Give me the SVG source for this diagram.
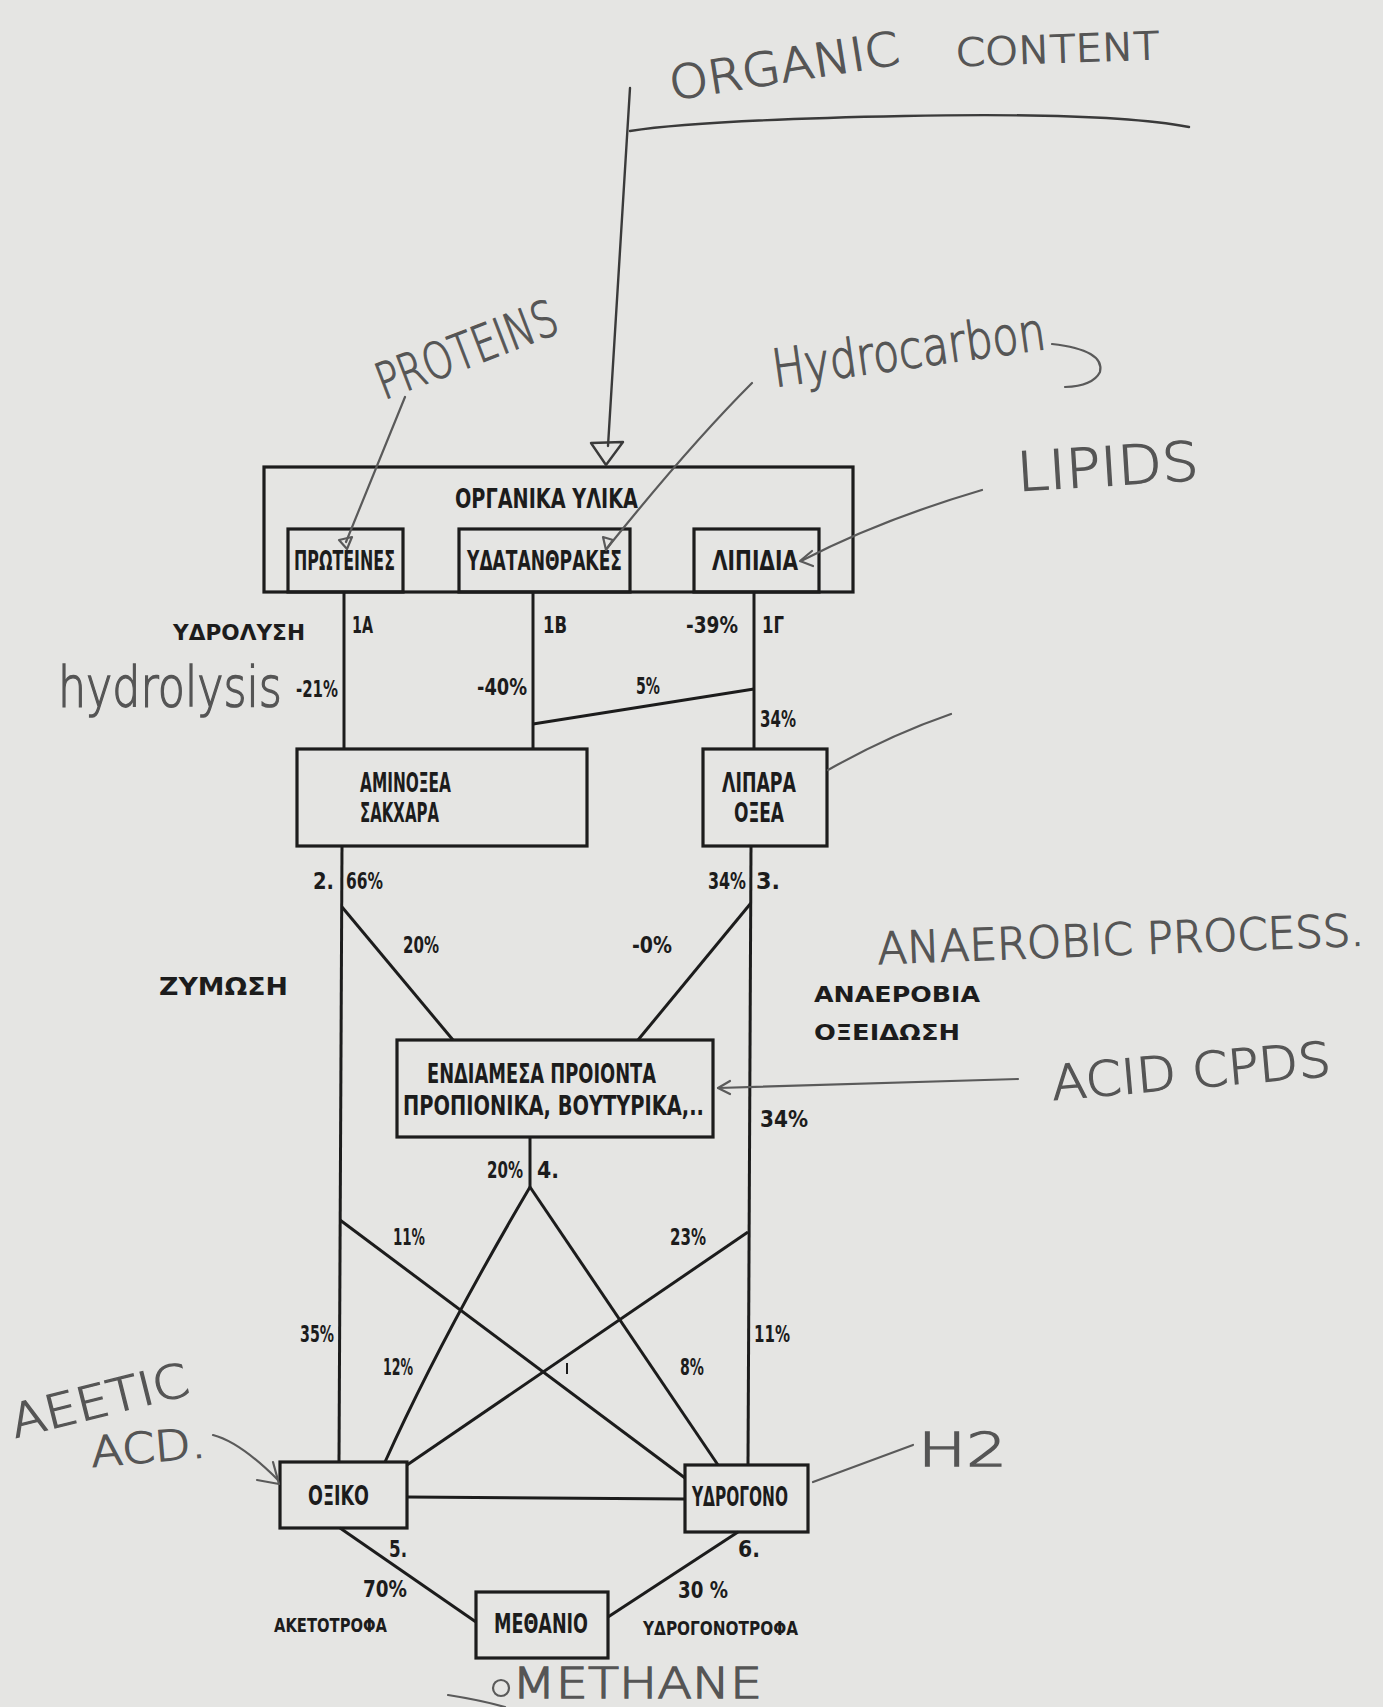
<svg xmlns="http://www.w3.org/2000/svg" width="1383" height="1707" viewBox="0 0 1383 1707">
<defs>
<style>
.bg{fill:#e5e5e3}
.box{fill:none;stroke:#1c1c1c;stroke-width:3.2;stroke-linejoin:miter}
.ln{fill:none;stroke:#1c1c1c;stroke-width:3}
.t{font-family:"DejaVu Sans Condensed","DejaVu Sans",sans-serif;font-weight:bold;font-size:23px;fill:#1c1c1c}
.tb{font-size:26px}
.ts{font-size:20px}
.tw{font-family:"DejaVu Sans","Liberation Sans",sans-serif;font-weight:bold;font-size:22px;fill:#1c1c1c}
.hw{font-family:"DejaVu Sans","Liberation Sans",sans-serif;font-weight:200;fill:#555;stroke:#555;stroke-width:1.3}
.pen{fill:none;stroke:#5a5a5a;stroke-width:2.2;stroke-linecap:round;stroke-linejoin:round}
.pend{fill:none;stroke:#3a3a3a;stroke-width:2.4;stroke-linecap:round;stroke-linejoin:round}
</style>
</defs>
<rect class="bg" x="0" y="0" width="1383" height="1707"/>

<g id="node-organika">
<rect class="box" x="264" y="467" width="589" height="125"/>
<text class="t tb" x="455" y="508" textLength="183" lengthAdjust="spacingAndGlyphs">ΟΡΓΑΝΙΚΑ ΥΛΙΚΑ</text>
</g>
<g id="node-proteines">
<rect class="box" x="288" y="529" width="115" height="63"/>
<text class="t tb" x="294" y="570" textLength="101" lengthAdjust="spacingAndGlyphs">ΠΡΩΤΕΙΝΕΣ</text>
</g>
<g id="node-ydatanthrakes">
<rect class="box" x="459" y="529" width="171" height="63"/>
<text class="t tb" x="467" y="570" textLength="155" lengthAdjust="spacingAndGlyphs">ΥΔΑΤΑΝΘΡΑΚΕΣ</text>
</g>
<g id="node-lipidia">
<rect class="box" x="694" y="529" width="125" height="63"/>
<text class="t tb" x="712" y="570" textLength="86" lengthAdjust="spacingAndGlyphs">ΛΙΠΙΔΙΑ</text>
</g>
<g id="node-aminoxea">
<rect class="box" x="297" y="749" width="290" height="97"/>
<text class="t tb" x="360" y="792" textLength="91" lengthAdjust="spacingAndGlyphs">ΑΜΙΝΟΞΕΑ</text>
<text class="t tb" x="360" y="822" textLength="79" lengthAdjust="spacingAndGlyphs">ΣΑΚΧΑΡΑ</text>
</g>
<g id="node-lipara">
<rect class="box" x="703" y="749" width="124" height="97"/>
<text class="t tb" x="722" y="792" textLength="74" lengthAdjust="spacingAndGlyphs">ΛΙΠΑΡΑ</text>
<text class="t tb" x="734" y="822" textLength="50" lengthAdjust="spacingAndGlyphs">ΟΞΕΑ</text>
</g>
<g id="node-endiamesa">
<rect class="box" x="397" y="1040" width="316" height="97"/>
<text class="t tb" x="427" y="1083" textLength="229" lengthAdjust="spacingAndGlyphs">ΕΝΔΙΑΜΕΣΑ ΠΡΟΙΟΝΤΑ</text>
<text class="t tb" x="403" y="1115" textLength="301" lengthAdjust="spacingAndGlyphs">ΠΡΟΠΙΟΝΙΚΑ, ΒΟΥΤΥΡΙΚΑ,..</text>
</g>
<g id="node-oxiko">
<rect class="box" x="280" y="1462" width="127" height="66"/>
<text class="t tb" x="308" y="1505" textLength="61" lengthAdjust="spacingAndGlyphs">ΟΞΙΚΟ</text>
</g>
<g id="node-ydrogono">
<rect class="box" x="685" y="1465" width="123" height="67"/>
<text class="t tb" x="692" y="1506" textLength="96" lengthAdjust="spacingAndGlyphs">ΥΔΡΟΓΟΝΟ</text>
</g>
<g id="node-methanio">
<rect class="box" x="476" y="1592" width="132" height="66"/>
<text class="t tb" x="494" y="1633" textLength="94" lengthAdjust="spacingAndGlyphs">ΜΕΘΑΝΙΟ</text>
</g>

<g id="connectors">
<path class="ln" d="M344 592V749"/>
<path class="ln" d="M533 592V749"/>
<path class="ln" d="M754 592V749"/>
<path class="ln" d="M533 724L754 689"/>
<path class="ln" d="M342 846L339 1462"/>
<path class="ln" d="M751 846L748 1465"/>
<path class="ln" d="M342 907L453 1040"/>
<path class="ln" d="M751 903L638 1040"/>
<path class="ln" d="M530 1137V1187"/>
<path class="ln" d="M530 1187Q440 1340 385 1462"/>
<path class="ln" d="M530 1187L718 1465"/>
<path class="ln" d="M340 1220L685 1478"/>
<path class="ln" d="M748 1232L407 1465"/>
<path class="ln" d="M407 1497L685 1499"/>
<path class="ln" d="M340 1528L476 1622"/>
<path class="ln" d="M738 1532L608 1617"/>
</g>

<g id="labels">
<text class="tw" x="173" y="640" textLength="132" lengthAdjust="spacingAndGlyphs">ΥΔΡΟΛΥΣΗ</text>
<text class="t" x="352" y="633" textLength="21" lengthAdjust="spacingAndGlyphs">1Α</text>
<text class="t" x="543" y="633" textLength="24" lengthAdjust="spacingAndGlyphs">1Β</text>
<text class="t" x="686" y="633" textLength="52" lengthAdjust="spacingAndGlyphs">-39%</text>
<text class="t" x="762" y="633" textLength="22" lengthAdjust="spacingAndGlyphs">1Γ</text>
<text class="t" x="296" y="697" textLength="42" lengthAdjust="spacingAndGlyphs">-21%</text>
<text class="t" x="477" y="695" textLength="50" lengthAdjust="spacingAndGlyphs">-40%</text>
<text class="t" x="636" y="694" textLength="24" lengthAdjust="spacingAndGlyphs">5%</text>
<text class="t" x="760" y="727" textLength="36" lengthAdjust="spacingAndGlyphs">34%</text>
<text class="t" x="313" y="889" textLength="21" lengthAdjust="spacingAndGlyphs">2.</text>
<text class="t" x="346" y="889" textLength="37" lengthAdjust="spacingAndGlyphs">66%</text>
<text class="t" x="708" y="889" textLength="38" lengthAdjust="spacingAndGlyphs">34%</text>
<text class="t" x="756" y="889" textLength="24" lengthAdjust="spacingAndGlyphs">3.</text>
<text class="t" x="403" y="953" textLength="36" lengthAdjust="spacingAndGlyphs">20%</text>
<text class="t" x="632" y="953" textLength="40" lengthAdjust="spacingAndGlyphs">-0%</text>
<text class="tw" x="159" y="995" textLength="129" lengthAdjust="spacingAndGlyphs" style="font-weight:900;font-size:24px">ΖΥΜΩΣΗ</text>
<text class="tw" x="814" y="1002" textLength="166" lengthAdjust="spacingAndGlyphs">ΑΝΑΕΡΟΒΙΑ</text>
<text class="tw" x="814" y="1040" textLength="146" lengthAdjust="spacingAndGlyphs">ΟΞΕΙΔΩΣΗ</text>
<text class="t" x="760" y="1127" textLength="48" lengthAdjust="spacingAndGlyphs">34%</text>
<text class="t" x="487" y="1178" textLength="36" lengthAdjust="spacingAndGlyphs">20%</text>
<text class="t" x="537" y="1178" textLength="22" lengthAdjust="spacingAndGlyphs">4.</text>
<text class="t" x="393" y="1245" textLength="32" lengthAdjust="spacingAndGlyphs">11%</text>
<text class="t" x="670" y="1245" textLength="36" lengthAdjust="spacingAndGlyphs">23%</text>
<text class="t" x="300" y="1342" textLength="34" lengthAdjust="spacingAndGlyphs">35%</text>
<text class="t" x="754" y="1342" textLength="36" lengthAdjust="spacingAndGlyphs">11%</text>
<text class="t" x="383" y="1375" textLength="30" lengthAdjust="spacingAndGlyphs">12%</text>
<text class="t" x="680" y="1375" textLength="24" lengthAdjust="spacingAndGlyphs">8%</text>
<text class="t" x="389" y="1557" textLength="18" lengthAdjust="spacingAndGlyphs">5.</text>
<text class="t" x="738" y="1557" textLength="22" lengthAdjust="spacingAndGlyphs">6.</text>
<text class="t" x="363" y="1597" textLength="44" lengthAdjust="spacingAndGlyphs">70%</text>
<text class="t" x="678" y="1598" textLength="50" lengthAdjust="spacingAndGlyphs">30 %</text>
<text class="t ts" x="274" y="1632" textLength="113" lengthAdjust="spacingAndGlyphs">ΑΚΕΤΟΤΡΟΦΑ</text>
<text class="t ts" x="643" y="1635" textLength="155" lengthAdjust="spacingAndGlyphs">ΥΔΡΟΓΟΝΟΤΡΟΦΑ</text>
<path class="ln" d="M567 1363L567 1374" style="stroke-width:2"/>
</g>

<g id="annotations">
<text class="hw" x="672" y="100" font-size="46" textLength="232" lengthAdjust="spacingAndGlyphs" transform="rotate(-9 672 100)">ORGANIC</text>
<text class="hw" x="956" y="66" font-size="38" textLength="204" lengthAdjust="spacingAndGlyphs" transform="rotate(-2 956 66)">CONTENT</text>
<path class="pend" d="M630 131Q700 120 904 116T1189 127"/>
<path class="pend" d="M630 88L608 446"/>
<path class="pend" d="M591 443L623 442L606 465Z"/>

<text class="hw" x="384" y="400" font-size="50" textLength="190" lengthAdjust="spacingAndGlyphs" transform="rotate(-21 384 400)">PROTEINS</text>
<path class="pen" d="M405 397L346 542"/>
<path class="pen" d="M339 540L352 537L347 549Z"/>

<text class="hw" x="775" y="387" font-size="52" textLength="275" lengthAdjust="spacingAndGlyphs" transform="rotate(-8 775 387)">Hydrocarbon</text>
<path class="pen" d="M1052 344Q1105 350 1100 372Q1093 386 1065 387"/>
<path class="pen" d="M752 383Q690 445 608 547"/>
<path class="pen" d="M603 537L613 540L606 550Z"/>

<text class="hw" x="1018" y="491" font-size="54" textLength="182" lengthAdjust="spacingAndGlyphs" transform="rotate(-3.5 1018 491)">LIPIDS</text>
<path class="pen" d="M982 490Q880 520 801 561"/>
<path class="pen" d="M812 551L800 561L813 566"/>

<path class="pen" d="M951 714Q890 735 828 770"/>

<text class="hw" x="58" y="543" font-size="43" textLength="224" lengthAdjust="spacingAndGlyphs" transform="scale(1 1.3)" style="stroke-width:1.1">hydrolysis</text>

<text class="hw" x="878" y="964" font-size="44" textLength="487" lengthAdjust="spacingAndGlyphs" transform="rotate(-2.2 878 964)">ANAEROBIC PROCESS.</text>

<text class="hw" x="1053" y="1100" font-size="48" textLength="280" lengthAdjust="spacingAndGlyphs" transform="rotate(-5 1053 1100)">ACID CPDS</text>
<path class="pen" d="M1018 1079L718 1088"/>
<path class="pen" d="M730 1081L718 1088L730 1094"/>

<text class="hw" x="15" y="1438" font-size="46" textLength="182" lengthAdjust="spacingAndGlyphs" transform="rotate(-14 15 1438)">AEETIC</text>
<text class="hw" x="92" y="1467" font-size="42" textLength="115" lengthAdjust="spacingAndGlyphs" transform="rotate(-5 92 1467)">ACD.</text>
<path class="pen" d="M213 1435Q240 1442 278 1480"/>
<path class="pen" d="M257 1480L279 1484L273 1462"/>

<text class="hw" x="918" y="1466" font-size="46" textLength="89" lengthAdjust="spacingAndGlyphs">H2</text>
<path class="pen" d="M913 1445L813 1482"/>

<circle class="pen" cx="501" cy="1688" r="8"/>
<text class="hw" x="512" y="1698" font-size="42" textLength="250" lengthAdjust="spacingAndGlyphs">METHANE</text>
<path class="pen" d="M448 1695Q480 1700 505 1707"/>
</g>
</svg>
